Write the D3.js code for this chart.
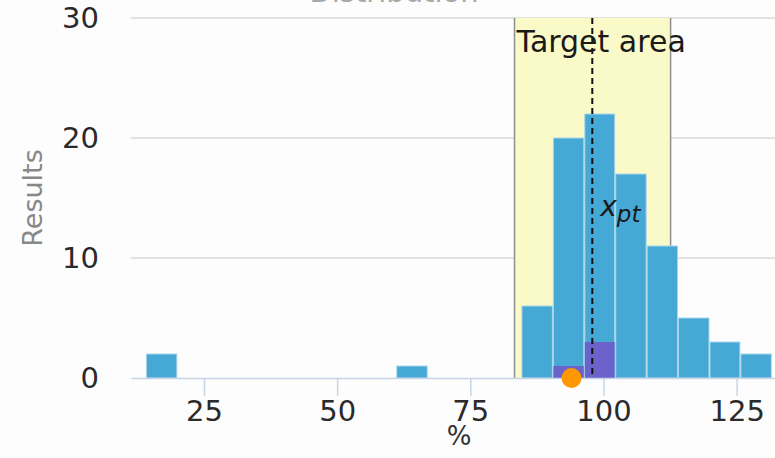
<!DOCTYPE html>
<html>
<head>
<meta charset="utf-8">
<script src="https://cdn.jsdelivr.net/npm/d3@7"></script>
<style>
  html, body { margin: 0; padding: 0; background: #fdfdfd; }
  svg { display: block; font-family: "DejaVu Sans", sans-serif; }
</style>
</head>
<body>
<svg id="chart" width="775" height="458"></svg>
<script>
// Histogram bins (lower edges, %) and the upper edge of the last bin
const binStarts = [14.1, 20.0, 25.8, 31.7, 37.6, 43.5, 49.4, 55.2, 61.1, 67.0,
                   72.9, 78.7, 84.6, 90.5, 96.4, 102.2, 108.1, 114.0, 119.9, 125.7];
const lastBinEnd = 131.6;
// Number of results in each bin
const counts = [2, 0, 0, 0, 0, 0, 0, 0, 1, 0, 0, 0, 6, 20, 22, 17, 11, 5, 3, 2];
// Highlighted results within each bin
const highlighted = [0, 0, 0, 0, 0, 0, 0, 0, 0, 0, 0, 0, 0, 1, 3, 0, 0, 0, 0, 0];

const xTicks = [25, 50, 75, 100, 125];
const yTicks = [0, 10, 20, 30];

const targetArea = [83.3, 112.6];   // accepted range, %
const xPt = 97.9;                   // assigned value, %
const ownResult = 94.0;             // participant result, %

const svg = d3.select("#chart");

const x = d3.scaleLinear().domain([11.3, 132.2]).range([131, 775]);
const y = d3.scaleLinear().domain([0, 30]).range([378, 18]);

const bins = binStarts.map((x0, i) => ({
  x0,
  x1: i < binStarts.length - 1 ? binStarts[i + 1] : lastBinEnd,
  n: counts[i],
  h: highlighted[i]
}));

// Title (sits above the plot)
svg.append("text")
  .attr("x", 394).attr("y", 1.5)
  .attr("text-anchor", "middle")
  .attr("font-size", 29)
  .attr("fill", "#a8a8a8")
  .text("Distribution");

// Horizontal grid lines
svg.append("g")
  .selectAll("line")
  .data(yTicks.filter(d => d > 0))
  .join("line")
  .attr("x1", 131).attr("x2", 775)
  .attr("y1", d => y(d)).attr("y2", d => y(d))
  .attr("stroke", "#d9d9d9")
  .attr("stroke-width", 1.5);

// Target area band
svg.append("rect")
  .attr("x", x(targetArea[0]))
  .attr("y", y(30))
  .attr("width", x(targetArea[1]) - x(targetArea[0]))
  .attr("height", y(0) - y(30))
  .attr("fill", "#fafac8");
svg.append("g")
  .selectAll("line")
  .data(targetArea)
  .join("line")
  .attr("x1", d => x(d)).attr("x2", d => x(d))
  .attr("y1", y(30)).attr("y2", y(0))
  .attr("stroke", "#8f8f8f")
  .attr("stroke-width", 1.5);

// Histogram bars
svg.append("g")
  .selectAll("rect")
  .data(bins.filter(d => d.n > 0))
  .join("rect")
  .attr("x", d => x(d.x0) + 0.5)
  .attr("y", d => y(d.n))
  .attr("width", d => x(d.x1) - x(d.x0) - 1)
  .attr("height", d => y(0) - y(d.n))
  .attr("fill", "#45a8d5")
  .attr("stroke", "#a9d5ec")
  .attr("stroke-width", 1);

// Highlighted part of bars
svg.append("g")
  .selectAll("rect")
  .data(bins.filter(d => d.h > 0))
  .join("rect")
  .attr("x", d => x(d.x0) + 0.5)
  .attr("y", d => y(d.h))
  .attr("width", d => x(d.x1) - x(d.x0) - 1)
  .attr("height", d => y(0) - y(d.h))
  .attr("fill", "#6b62cc");

// x axis
const xAxis = svg.append("g")
  .attr("transform", `translate(0,${y(0)})`)
  .call(d3.axisBottom(x).tickValues(xTicks).tickSizeInner(18).tickSizeOuter(0).tickPadding(4));
xAxis.select(".domain").attr("stroke", "#c5d5e6").attr("stroke-width", 1.5);
xAxis.selectAll(".tick line").attr("stroke", "#c5d5e6").attr("stroke-width", 1.5);
xAxis.selectAll(".tick text")
  .attr("font-size", 29)
  .attr("font-family", "DejaVu Sans, sans-serif")
  .attr("fill", "#2a2a2a");

// y axis labels
const yAxis = svg.append("g")
  .attr("transform", "translate(131,0)")
  .call(d3.axisLeft(y).tickValues(yTicks).tickSize(0).tickPadding(32));
yAxis.select(".domain").remove();
yAxis.selectAll(".tick text")
  .attr("font-size", 29)
  .attr("font-family", "DejaVu Sans, sans-serif")
  .attr("fill", "#2a2a2a");

// Axis titles
svg.append("text")
  .attr("x", 459).attr("y", 445)
  .attr("text-anchor", "middle")
  .attr("font-size", 26)
  .attr("fill", "#333")
  .text("%");
svg.append("text")
  .attr("transform", "translate(42,198) rotate(-90)")
  .attr("text-anchor", "middle")
  .attr("font-size", 27)
  .attr("fill", "#888")
  .text("Results");

// Assigned value marker
svg.append("line")
  .attr("x1", x(xPt)).attr("x2", x(xPt))
  .attr("y1", y(30)).attr("y2", y(0))
  .attr("stroke", "#111")
  .attr("stroke-width", 2)
  .attr("stroke-dasharray", "6,4");

const lbl = svg.append("text")
  .attr("x", x(xPt) + 8).attr("y", 216)
  .attr("font-size", 28)
  .attr("font-style", "italic")
  .attr("fill", "#1a1a1a");
lbl.append("tspan").text("x");
lbl.append("tspan").attr("dy", 6).attr("font-size", 23).text("pt");

// Target area label
svg.append("text")
  .attr("x", x(targetArea[0]) + 2).attr("y", 52)
  .attr("font-size", 30)
  .attr("fill", "#1a1a1a")
  .text("Target area");

// Own result
svg.append("circle")
  .attr("cx", x(ownResult)).attr("cy", y(0))
  .attr("r", 10)
  .attr("fill", "#ff9800");
</script>
</body>
</html>
